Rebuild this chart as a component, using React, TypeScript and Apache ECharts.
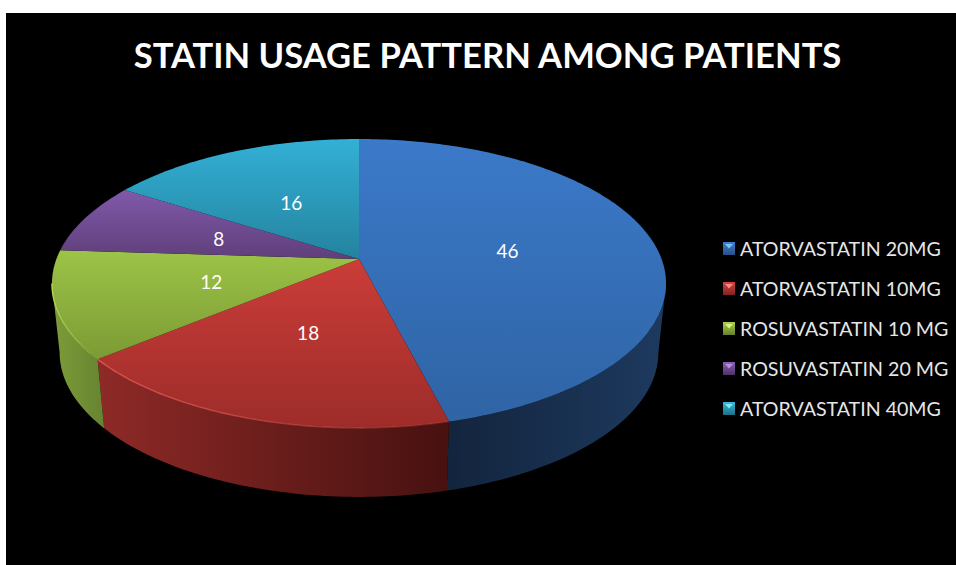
import React, { useEffect, useRef } from "react";
import * as echarts from "echarts";

const TITLE = "STATIN USAGE PATTERN AMONG PATIENTS";
const categories = [
  "ATORVASTATIN 20MG",
  "ATORVASTATIN 10MG",
  "ROSUVASTATIN 10 MG",
  "ROSUVASTATIN 20 MG",
  "ATORVASTATIN 40MG",
];
const values = [46, 18, 12, 8, 16];

// Face shading per slice: top-face gradient, wall gradient, rim highlight.
const topStops = [
  ["#3b79c9", "#2f64a5"],
  ["#cb3d39", "#9d2c29"],
  ["#9cc447", "#7c9a34"],
  ["#8059aa", "#5f3f7a"],
  ["#33b0d6", "#24839e"],
];
const wallStops = [
  ["#13243d", "#1d3a5f"],
  ["#8e2a27", "#471110"],
  ["#7c9d39", "#678330"],
  ["#4a3163", "#4a3163"],
  ["#1c6a82", "#1c6a82"],
];
const rimColors = ["", "#dc5450", "#b0d856", "", ""];
const swatchStops = [
  ["#3f80d2", "#274f86"],
  ["#d9423e", "#7f2422"],
  ["#a9d04a", "#66802a"],
  ["#8a60b8", "#4d3366"],
  ["#36bcdf", "#1d6f86"],
];
const swatchLights = ["#7cc0f5", "#f58a86", "#dcf07c", "#b48fdc", "#84e6f5"];

// Perspective projection of the tilted disc.
const APEX_X = 359;
const APEX_Y = 259;
const RADIUS_X = 302.6;
const RADIUS_Y = 140.3;
const TILT = 0.1695;
const WALL_DEPTH = 69;
const WALL_TAPER = 0.975;
// Angles at which the projected rim reaches its horizontal extremes.
const SIDE_RIGHT = 99.8;
const SIDE_LEFT = 260.2;

const LEGEND_X = 723;
const LEGEND_Y = 242;
const LEGEND_STEP = 40;
const SWATCH_W = 12;
const SWATCH_H = 13;
const LEGEND_ROW = 20;

const total = values.reduce((a, b) => a + b, 0);

function project(deg: number, r = 1): [number, number] {
  const t = (deg * Math.PI) / 180;
  const px = Math.sin(t) * r;
  const py = -Math.cos(t) * r;
  const w = 1 / (1 - TILT * py);
  return [APEX_X + RADIUS_X * px * w, APEX_Y + RADIUS_Y * py * w];
}

function lower([x, y]: [number, number]): [number, number] {
  return [APEX_X + WALL_TAPER * (x - APEX_X), y + WALL_DEPTH];
}

function arc(from: number, to: number): [number, number][] {
  const pts: [number, number][] = [];
  const n = Math.max(2, Math.ceil(to - from));
  for (let i = 0; i <= n; i++) pts.push(project(from + ((to - from) * i) / n));
  return pts;
}

function vertical(stops: string[]) {
  return new echarts.graphic.LinearGradient(0, 0, 0, 1, [
    { offset: 0, color: stops[0] },
    { offset: 1, color: stops[1] },
  ]);
}

function horizontal(stops: string[]) {
  return new echarts.graphic.LinearGradient(0, 0, 1, 0, [
    { offset: 0, color: stops[0] },
    { offset: 1, color: stops[1] },
  ]);
}

function sliceRenderer(index: number) {
  return (_params: any, api: any) => {
    const value = api.value(0) as number;
    const before = api.value(1) as number;
    const start = (before / total) * 360;
    const end = ((before + value) / total) * 360;
    const children: any[] = [];

    const wallFrom = Math.max(start, SIDE_RIGHT);
    const wallTo = Math.min(end, SIDE_LEFT);
    if (wallFrom < wallTo) {
      const rim = arc(wallFrom, wallTo);
      children.push({
        type: "polygon",
        shape: { points: [...rim, ...rim.slice().reverse().map(lower)] },
        style: { fill: horizontal(wallStops[index]) },
      });
    }

    children.push({
      type: "polygon",
      shape: { points: [[APEX_X, APEX_Y], ...arc(start, end)] },
      style: { fill: vertical(topStops[index]) },
    });

    if (wallFrom < wallTo && rimColors[index]) {
      children.push({
        type: "polyline",
        shape: { points: arc(wallFrom, wallTo) },
        style: {
          fill: "none",
          lineWidth: 1.4,
          stroke: new echarts.graphic.LinearGradient(0, 0, 1, 0, [
            { offset: 0, color: rimColors[index] },
            { offset: 1, color: rimColors[index] + "33" },
          ]),
        },
      });
    }

    const mid = (start + end) / 2;
    const [lx, ly] = project(mid, 0.5);
    children.push({
      type: "text",
      style: {
        text: String(value),
        x: lx,
        y: ly + 0.5,
        fill: "#ffffff",
        font: "19px Lato",
        align: "center",
        verticalAlign: "middle",
      },
    });

    return { type: "group", children };
  };
}

export default function App() {
  const ref = useRef<HTMLDivElement>(null);

  useEffect(() => {
    const chart = echarts.init(ref.current!, undefined, { renderer: "svg" });
    let running = 0;
    const series = categories.map((name, i) => {
      const before = running;
      running += values[i];
      return {
        type: "custom",
        name,
        coordinateSystem: "none",
        silent: true,
        itemStyle: { color: topStops[i][0] },
        data: [[values[i], before]],
        renderItem: sliceRenderer(i),
      };
    });

    chart.setOption({
      animation: false,
      backgroundColor: "#ffffff",
      title: {
        text: TITLE,
        left: 482.5,
        top: 32,
        textAlign: "center",
        textStyle: { color: "#ffffff", fontFamily: "Lato", fontWeight: "bold", fontSize: 34.6 },
      },
      legend: {
        orient: "vertical",
        left: LEGEND_X,
        top: LEGEND_Y - (LEGEND_ROW - SWATCH_H) / 2,
        padding: 0,
        itemWidth: SWATCH_W,
        itemHeight: SWATCH_H,
        itemGap: LEGEND_STEP - LEGEND_ROW,
        selectedMode: false,
        icon: "rect",
        textStyle: { color: "#e6e6e6", fontFamily: "Lato", fontSize: 19.6, lineHeight: LEGEND_ROW },
        data: categories.map((name, i) => ({
          name,
          itemStyle: { color: vertical(swatchStops[i]) },
        })),
      },
      graphic: [
        { type: "rect", z: -10, shape: { x: 6, y: 13, width: 950, height: 552 }, style: { fill: "#000000" } },
        ...swatchLights.map((color, i) => ({
          type: "polygon",
          z: 10,
          shape: {
            points: [
              [LEGEND_X + 2, LEGEND_Y + i * LEGEND_STEP + 2],
              [LEGEND_X + SWATCH_W - 2, LEGEND_Y + i * LEGEND_STEP + 2],
              [LEGEND_X + SWATCH_W / 2, LEGEND_Y + i * LEGEND_STEP + SWATCH_H / 2],
            ],
          },
          style: { fill: color },
        })),
      ],
      series,
    });

    return () => chart.dispose();
  }, []);

  return (
    <div
      ref={ref}
      style={{ position: "absolute", left: 0, top: 0, width: 956, height: 565 }}
    />
  );
}
